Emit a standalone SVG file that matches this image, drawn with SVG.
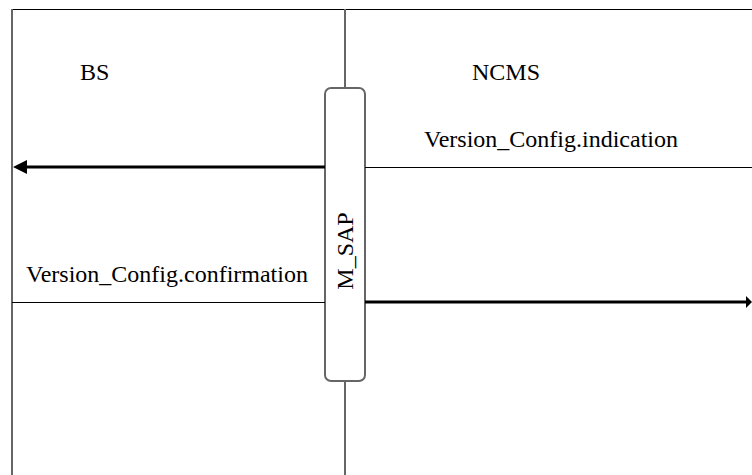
<svg xmlns="http://www.w3.org/2000/svg" width="752" height="475" viewBox="0 0 752 475">
<style>
text{font-family:'Liberation Serif','Times New Roman',Times,serif;font-size:24px;fill:#000}
.thin{stroke:#000;stroke-width:1;fill:none}
.gray{stroke:#666;stroke-width:2;fill:none}
.thick{stroke:#000;stroke-width:3;fill:none}
</style>
<g id="frame">
<line class="thin" x1="12" y1="9.5" x2="752" y2="9.5"/>
<line class="gray" x1="12" y1="9" x2="12" y2="475"/>
<line class="gray" x1="345" y1="9" x2="345" y2="87" stroke-width="1.5"/>
<line class="gray" x1="345" y1="381" x2="345" y2="475" stroke-width="1.5"/>
</g>
<g id="BS"><text x="80" y="80">BS</text></g>
<g id="NCMS"><text x="472" y="80">NCMS</text></g>
<g id="MSAP">
<rect x="325" y="88" width="40" height="293" rx="6" ry="6" class="gray" stroke-width="1.5"/>
<text transform="translate(353,251) rotate(-90)" text-anchor="middle">M_SAP</text>
</g>
<g id="connectors">
<line class="thin" x1="365" y1="167.5" x2="752" y2="167.5"/>
<line class="thick" x1="325" y1="167" x2="26" y2="167"/>
<path d="M13,167 L27,160 L27,174 z" fill="#000"/>
<line class="thin" x1="12" y1="302.5" x2="325" y2="302.5"/>
<line class="thick" x1="365" y1="302" x2="748" y2="302"/>
<path d="M752,302 L746,296 L746,308 z" fill="#000"/>
</g>
<g id="labels">
<text x="424" y="147">Version_Config.indication</text>
<text x="26" y="282">Version_Config.confirmation</text>
</g>
</svg>
